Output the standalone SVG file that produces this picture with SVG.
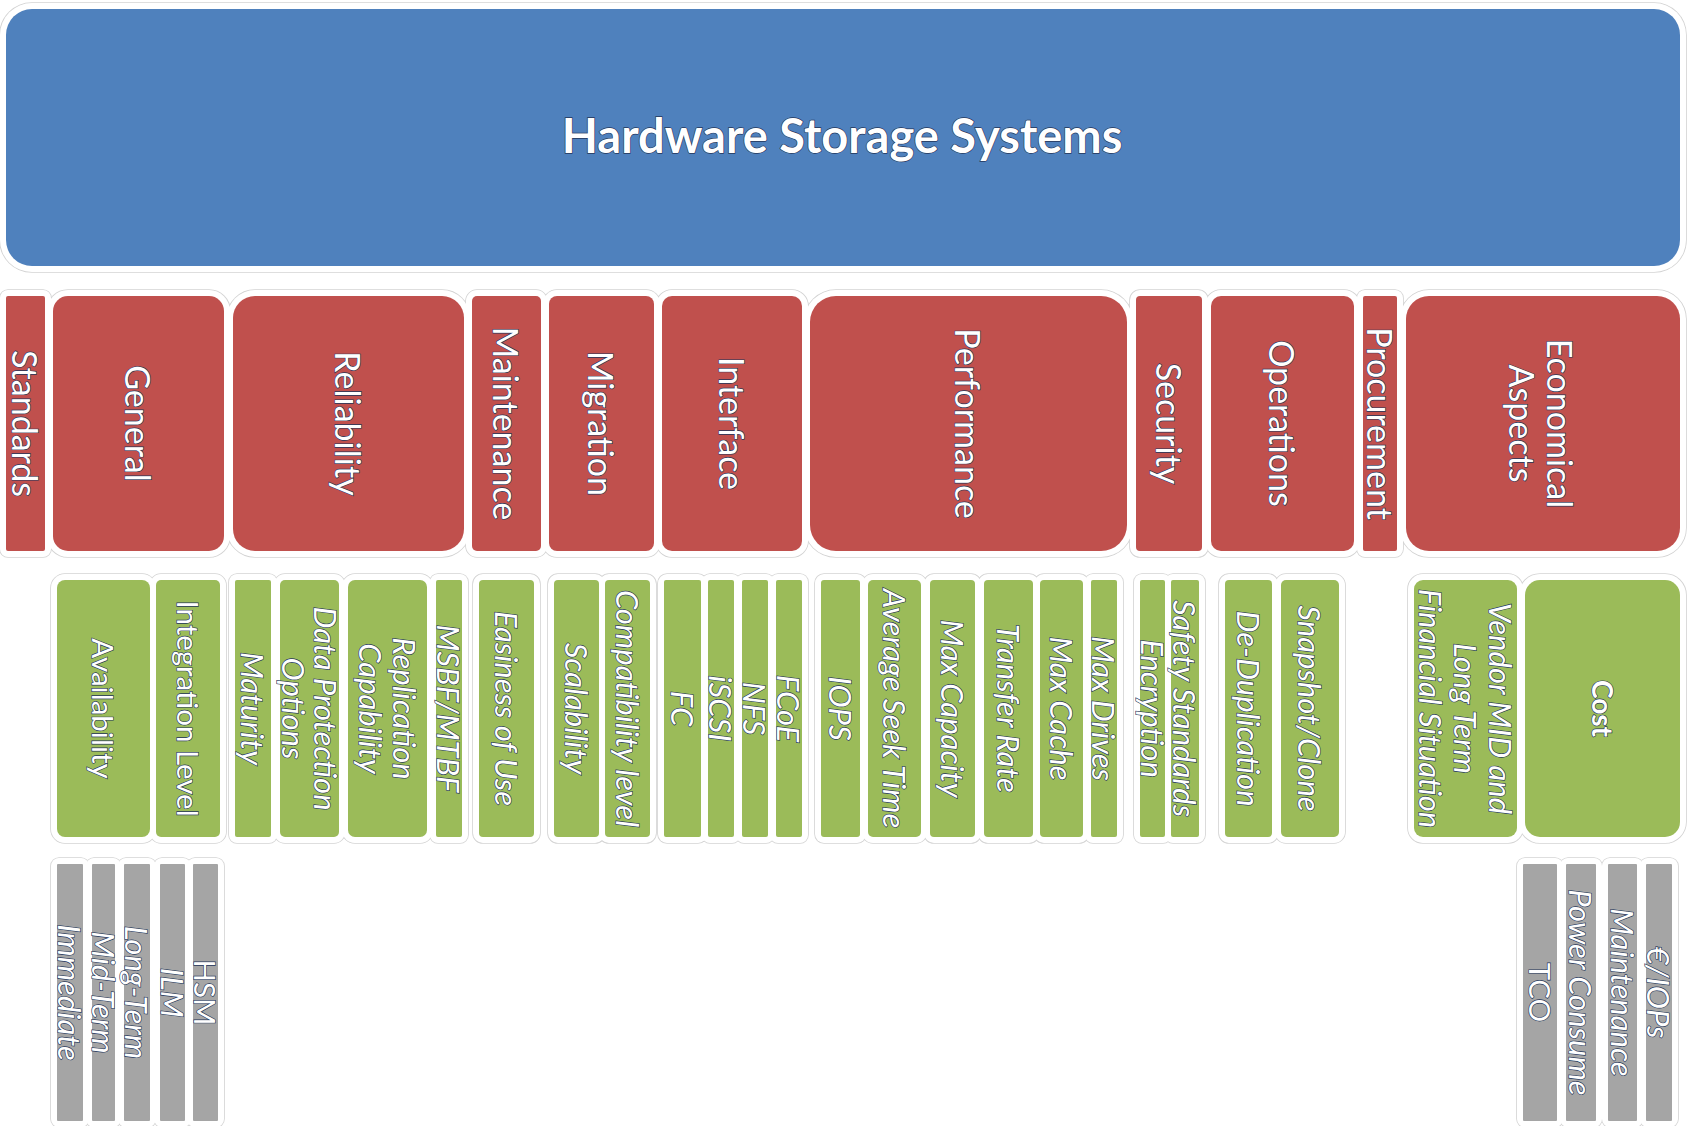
<svg xmlns="http://www.w3.org/2000/svg" xmlns:xlink="http://www.w3.org/1999/xlink" width="1689" height="1126" viewBox="0 0 1689 1126">
  <style>
    .blue { fill: #4f81bd; }
    .red { fill: #c0504d; }
    .green { fill: #9bbb59; }
    .gray { fill: #a5a5a5; }
    text {
      font-family: Lato, "Open Sans", "Liberation Sans", sans-serif;
      fill: #ffffff;
      stroke: #24365a;
      stroke-width: 1.3;
      paint-order: stroke;
      text-anchor: middle;
      dominant-baseline: central;
    }
    .title { font-size: 47px; font-weight: bold; }
    .cat { font-size: 34px; }
    .item { font-size: 29.5px; }
    .it { font-style: italic; font-size: 31px; }
    .strong { font-weight: bold; font-size: 28px; }
  </style>

  <defs>
    <!-- white outline band around every box; drawn twice so that touching bands merge into one outline -->
    <g id="halo-shapes">
      <rect x="0" y="3" width="1686" height="269" rx="32"/>
      <!-- category row -->
      <rect x="0" y="290" width="51" height="267" rx="8"/>
      <rect x="47" y="290" width="183" height="267" rx="21"/>
      <rect x="227" y="290" width="243" height="267" rx="28"/>
      <rect x="466" y="290" width="81" height="267" rx="11"/>
      <rect x="543" y="290" width="117" height="267" rx="14"/>
      <rect x="656" y="290" width="152" height="267" rx="16"/>
      <rect x="804" y="290" width="329" height="267" rx="32"/>
      <rect x="1130" y="290" width="78" height="267" rx="10"/>
      <rect x="1205" y="290" width="155" height="267" rx="16"/>
      <rect x="1357" y="290" width="46" height="267" rx="8"/>
      <rect x="1400" y="290" width="286" height="267" rx="29"/>
      <!-- item row -->
      <rect x="51" y="574" width="105" height="269" rx="14"/>
      <rect x="150" y="574" width="76" height="269" rx="11"/>
      <rect x="229" y="574" width="48" height="269" rx="8"/>
      <rect x="274" y="574" width="71" height="269" rx="11"/>
      <rect x="342" y="574" width="91" height="269" rx="13"/>
      <rect x="430" y="574" width="38" height="269" rx="8"/>
      <rect x="473" y="574" width="67" height="269" rx="10"/>
      <rect x="548" y="574" width="57" height="269" rx="10"/>
      <rect x="599" y="574" width="57" height="269" rx="10"/>
      <rect x="658" y="574" width="49" height="269" rx="9"/>
      <rect x="702" y="574" width="38" height="269" rx="8"/>
      <rect x="736" y="574" width="38" height="269" rx="8"/>
      <rect x="770" y="574" width="38" height="269" rx="8"/>
      <rect x="815" y="574" width="51" height="269" rx="9"/>
      <rect x="862" y="574" width="65" height="269" rx="11"/>
      <rect x="924" y="574" width="57" height="269" rx="10"/>
      <rect x="978" y="574" width="61" height="269" rx="10"/>
      <rect x="1034" y="574" width="55" height="269" rx="10"/>
      <rect x="1085" y="574" width="38" height="269" rx="8"/>
      <rect x="1134" y="574" width="37" height="269" rx="8"/>
      <rect x="1165" y="574" width="40" height="269" rx="8"/>
      <rect x="1219" y="574" width="59" height="269" rx="10"/>
      <rect x="1275" y="574" width="70" height="269" rx="11"/>
      <rect x="1408" y="574" width="115" height="269" rx="15"/>
      <rect x="1519" y="574" width="167" height="269" rx="21"/>
      <!-- detail row -->
      <rect x="51" y="858" width="38" height="269" rx="8"/>
      <rect x="86" y="858" width="35" height="269" rx="8"/>
      <rect x="118" y="858" width="38" height="269" rx="8"/>
      <rect x="154" y="858" width="37" height="269" rx="8"/>
      <rect x="187" y="858" width="37" height="269" rx="8"/>
      <rect x="1517" y="858" width="46" height="269" rx="8"/>
      <rect x="1560" y="858" width="42" height="269" rx="8"/>
      <rect x="1602" y="858" width="41" height="269" rx="8"/>
      <rect x="1640" y="858" width="38" height="269" rx="8"/>
    </g>
  </defs>

  <g id="outlines">
    <use xlink:href="#halo-shapes" fill="none" stroke="#d3d3d3" stroke-width="1.6"/>
    <use xlink:href="#halo-shapes" fill="#ffffff" stroke="none"/>
  </g>

  <!-- root -->
  <g id="hardware-storage-systems">
    <rect class="blue" x="6" y="9" width="1674" height="257" rx="26"/>
    <text class="title" x="842" y="135">Hardware Storage Systems</text>
  </g>

  <!-- category row -->
  <g id="standards">
    <rect class="red" x="6" y="296" width="39" height="255" rx="2"/>
    <text class="cat" transform="translate(25.5 423.5) rotate(90)">Standards</text>
  </g>
  <g id="general">
    <rect class="red" x="53" y="296" width="171" height="255" rx="15"/>
    <text class="cat" transform="translate(138.5 423.5) rotate(90)">General</text>
  </g>
  <g id="reliability">
    <rect class="red" x="233" y="296" width="231" height="255" rx="22"/>
    <text class="cat" transform="translate(348.5 423.5) rotate(90)">Reliability</text>
  </g>
  <g id="maintenance">
    <rect class="red" x="472" y="296" width="69" height="255" rx="5"/>
    <text class="cat" transform="translate(506.5 423.5) rotate(90)">Maintenance</text>
  </g>
  <g id="migration">
    <rect class="red" x="549" y="296" width="105" height="255" rx="8"/>
    <text class="cat" transform="translate(601.5 423.5) rotate(90)">Migration</text>
  </g>
  <g id="interface">
    <rect class="red" x="662" y="296" width="140" height="255" rx="10"/>
    <text class="cat" transform="translate(732 423.5) rotate(90)">Interface</text>
  </g>
  <g id="performance">
    <rect class="red" x="810" y="296" width="317" height="255" rx="26"/>
    <text class="cat" transform="translate(968.5 423.5) rotate(90)">Performance</text>
  </g>
  <g id="security">
    <rect class="red" x="1136" y="296" width="66" height="255" rx="4"/>
    <text class="cat" transform="translate(1169 423.5) rotate(90)">Security</text>
  </g>
  <g id="operations">
    <rect class="red" x="1211" y="296" width="143" height="255" rx="10"/>
    <text class="cat" transform="translate(1282.5 423.5) rotate(90)">Operations</text>
  </g>
  <g id="procurement">
    <rect class="red" x="1363" y="296" width="34" height="255" rx="2"/>
    <text class="cat" transform="translate(1380 423.5) rotate(90)">Procurement</text>
  </g>
  <g id="economical-aspects">
    <rect class="red" x="1406" y="296" width="274" height="255" rx="23"/>
    <text class="cat" transform="translate(1543 423.5) rotate(90)"><tspan x="0" y="-18">Economical</tspan><tspan x="0" y="20">Aspects</tspan></text>
  </g>

  <!-- item row -->
  <g id="availability">
    <rect class="green" x="57" y="580" width="93" height="257" rx="8"/>
    <text class="item" transform="translate(103.5 708.5) rotate(90)">Availability</text>
  </g>
  <g id="integration-level">
    <rect class="green" x="156" y="580" width="64" height="257" rx="5"/>
    <text class="item" transform="translate(188 708.5) rotate(90)">Integration Level</text>
  </g>
  <g id="maturity">
    <rect class="green" x="235" y="580" width="36" height="257" rx="2"/>
    <text class="item it" transform="translate(253 708.5) rotate(90)">Maturity</text>
  </g>
  <g id="data-protection-options">
    <rect class="green" x="280" y="580" width="59" height="257" rx="5"/>
    <text class="item it" transform="translate(309.5 708.5) rotate(90)"><tspan x="0" y="-16">Data Protection</tspan><tspan x="0" y="16">Options</tspan></text>
  </g>
  <g id="replication-capability">
    <rect class="green" x="348" y="580" width="79" height="257" rx="7"/>
    <text class="item it" transform="translate(387.5 708.5) rotate(90)"><tspan x="0" y="-17">Replication</tspan><tspan x="0" y="17">Capability</tspan></text>
  </g>
  <g id="msbf-mtbf">
    <rect class="green" x="436" y="580" width="26" height="257" rx="2"/>
    <text class="item it" transform="translate(449 708.5) rotate(90)">MSBF/MTBF</text>
  </g>
  <g id="easiness-of-use">
    <rect class="green" x="479" y="580" width="55" height="257" rx="4"/>
    <text class="item it" transform="translate(506.5 708.5) rotate(90)">Easiness of Use</text>
  </g>
  <g id="scalability">
    <rect class="green" x="554" y="580" width="45" height="257" rx="4"/>
    <text class="item it" transform="translate(576.5 708.5) rotate(90)">Scalability</text>
  </g>
  <g id="compatibility-level">
    <rect class="green" x="605" y="580" width="45" height="257" rx="4"/>
    <text class="item it" transform="translate(627.5 708.5) rotate(90)">Compatibility level</text>
  </g>
  <g id="fc">
    <rect class="green" x="664" y="580" width="37" height="257" rx="2"/>
    <text class="item it" transform="translate(682.5 708.5) rotate(90)">FC</text>
  </g>
  <g id="iscsi">
    <rect class="green" x="708" y="580" width="26" height="257" rx="2"/>
    <text class="item it" transform="translate(721 708.5) rotate(90)">iSCSI</text>
  </g>
  <g id="nfs">
    <rect class="green" x="742" y="580" width="26" height="257" rx="2"/>
    <text class="item it" transform="translate(755 708.5) rotate(90)">NFS</text>
  </g>
  <g id="fcoe">
    <rect class="green" x="776" y="580" width="26" height="257" rx="2"/>
    <text class="item it" transform="translate(789 708.5) rotate(90)">FCoE</text>
  </g>
  <g id="iops">
    <rect class="green" x="821" y="580" width="39" height="257" rx="3"/>
    <text class="item it" transform="translate(840.5 708.5) rotate(90)">IOPS</text>
  </g>
  <g id="average-seek-time">
    <rect class="green" x="868" y="580" width="53" height="257" rx="5"/>
    <text class="item it" transform="translate(894.5 708.5) rotate(90)">Average Seek Time</text>
  </g>
  <g id="max-capacity">
    <rect class="green" x="930" y="580" width="45" height="257" rx="4"/>
    <text class="item it" transform="translate(952.5 708.5) rotate(90)">Max Capacity</text>
  </g>
  <g id="transfer-rate">
    <rect class="green" x="984" y="580" width="49" height="257" rx="4"/>
    <text class="item it" transform="translate(1008.5 708.5) rotate(90)">Transfer Rate</text>
  </g>
  <g id="max-cache">
    <rect class="green" x="1040" y="580" width="43" height="257" rx="4"/>
    <text class="item it" transform="translate(1061.5 708.5) rotate(90)">Max Cache</text>
  </g>
  <g id="max-drives">
    <rect class="green" x="1091" y="580" width="26" height="257" rx="2"/>
    <text class="item it" transform="translate(1104 708.5) rotate(90)">Max Drives</text>
  </g>
  <g id="encryption">
    <rect class="green" x="1140" y="580" width="25" height="257" rx="2"/>
    <text class="item it" transform="translate(1152.5 708.5) rotate(90)">Encryption</text>
  </g>
  <g id="safety-standards">
    <rect class="green" x="1171" y="580" width="28" height="257" rx="2"/>
    <text class="item it" transform="translate(1185 708.5) rotate(90)">Safety Standards</text>
  </g>
  <g id="de-duplication">
    <rect class="green" x="1225" y="580" width="47" height="257" rx="4"/>
    <text class="item it" transform="translate(1248.5 708.5) rotate(90)">De-Duplication</text>
  </g>
  <g id="snapshot-clone">
    <rect class="green" x="1281" y="580" width="58" height="257" rx="5"/>
    <text class="item it" transform="translate(1310 708.5) rotate(90)">Snapshot/Clone</text>
  </g>
  <g id="vendor-financial-situation">
    <rect class="green" x="1414" y="580" width="103" height="257" rx="9"/>
    <text class="item it" transform="translate(1465.5 708.5) rotate(90)"><tspan x="0" y="-35">Vendor MID and</tspan><tspan x="0" y="0">Long Term</tspan><tspan x="0" y="35">Financial Situation</tspan></text>
  </g>
  <g id="cost">
    <rect class="green" x="1525" y="580" width="155" height="257" rx="15"/>
    <text class="item strong" transform="translate(1602.5 708.5) rotate(90)">Cost</text>
  </g>

  <!-- detail row -->
  <g id="immediate">
    <rect class="gray" x="57" y="864" width="26" height="257" rx="1"/>
    <text class="item it" transform="translate(70 992.5) rotate(90)">Immediate</text>
  </g>
  <g id="mid-term">
    <rect class="gray" x="92" y="864" width="23" height="257" rx="1"/>
    <text class="item it" transform="translate(103.5 992.5) rotate(90)">Mid-Term</text>
  </g>
  <g id="long-term">
    <rect class="gray" x="124" y="864" width="26" height="257" rx="1"/>
    <text class="item it" transform="translate(137 992.5) rotate(90)">Long-Term</text>
  </g>
  <g id="ilm">
    <rect class="gray" x="160" y="864" width="25" height="257" rx="1"/>
    <text class="item it" transform="translate(172.5 992.5) rotate(90)">ILM</text>
  </g>
  <g id="hsm">
    <rect class="gray" x="193" y="864" width="25" height="257" rx="1"/>
    <text class="item" transform="translate(205.5 992.5) rotate(90)">HSM</text>
  </g>
  <g id="tco">
    <rect class="gray" x="1523" y="864" width="34" height="257" rx="1"/>
    <text class="item" transform="translate(1540 992.5) rotate(90)">TCO</text>
  </g>
  <g id="power-consume">
    <rect class="gray" x="1566" y="864" width="30" height="257" rx="1"/>
    <text class="item it" transform="translate(1581 992.5) rotate(90)">Power Consume</text>
  </g>
  <g id="maintenance-cost">
    <rect class="gray" x="1608" y="864" width="29" height="257" rx="1"/>
    <text class="item it" transform="translate(1622.5 992.5) rotate(90)">Maintenance</text>
  </g>
  <g id="euro-per-iops">
    <rect class="gray" x="1646" y="864" width="26" height="257" rx="1"/>
    <text class="item it" transform="translate(1659 992.5) rotate(90)">€/IOPs</text>
  </g>
</svg>
